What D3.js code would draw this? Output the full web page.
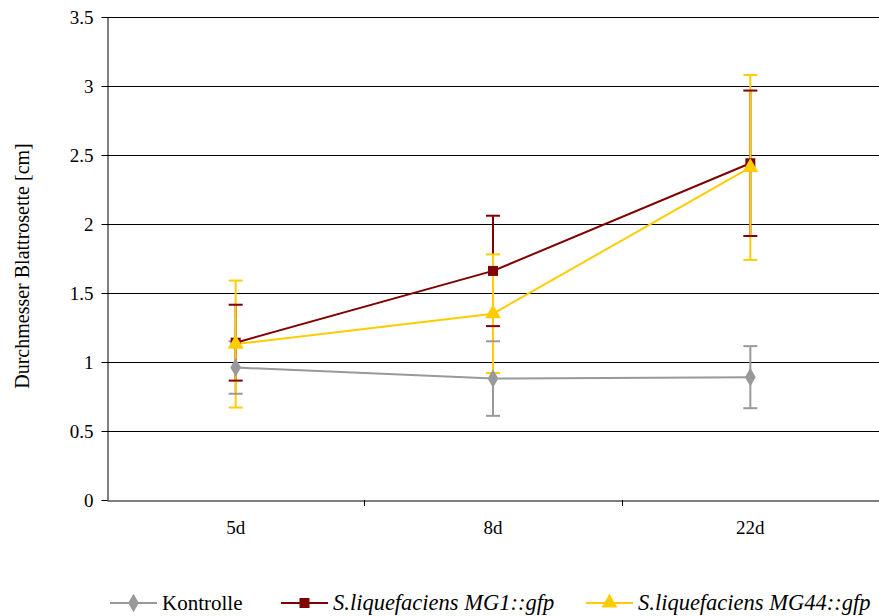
<!DOCTYPE html>
<html><head><meta charset="utf-8">
<script src="https://cdn.jsdelivr.net/npm/d3@7"></script>
<style>body{margin:0;background:#fff}svg{display:block}</style>
</head><body><svg id="c" width="879" height="616"></svg>
<script>
const categories = ["5d", "8d", "22d"];
const seriesNames = ["Kontrolle", "S.liquefaciens MG1::gfp", "S.liquefaciens MG44::gfp"];
const kontrolle = [0.96, 0.88, 0.89];
const kontrolleErr = [0.19, 0.27, 0.225];
const mg1 = [1.14, 1.66, 2.44];
const mg1Err = [0.275, 0.40, 0.527];
const mg44 = [1.13, 1.35, 2.41];
const mg44Err = [0.46, 0.43, 0.67];
const yTicks = [0, 0.5, 1, 1.5, 2, 2.5, 3, 3.5];

const series = [
  {name: seriesNames[0], values: kontrolle, err: kontrolleErr, color: "#999999", sym: d3.symbolDiamond, italic: false},
  {name: seriesNames[1], values: mg1, err: mg1Err, color: "#800000", sym: d3.symbolSquare, italic: true},
  {name: seriesNames[2], values: mg44, err: mg44Err, color: "#FFCC00", sym: d3.symbolTriangle, italic: true}
];

const FONT = '"Liberation Serif"';
const svg = d3.select("#c");
const L = 107, R = 879, T = 17, B = 500;
const x = d3.scaleBand().domain(categories).range([L, R]);
const y = d3.scaleLinear().domain([0, 3.5]).range([B, T]);

// gridlines
svg.append("g").selectAll("line").data(yTicks.filter(t => t > 0)).join("line")
  .attr("x1", L).attr("x2", R).attr("y1", d => Math.round(y(d)) + 0.5).attr("y2", d => Math.round(y(d)) + 0.5)
  .attr("stroke", "#000").attr("stroke-width", 1);

// y axis
const ya = svg.append("g").attr("transform", `translate(${L + 0.5},0)`)
  .call(d3.axisLeft(y).tickValues(yTicks).tickSize(6).tickSizeOuter(0).tickFormat(d => String(d)));
ya.attr("font-family", null).attr("font-size", null);
ya.select(".domain").attr("stroke", "#000");
ya.selectAll(".tick line").attr("stroke", "#000");
ya.selectAll(".tick text").style("font-family", FONT).style("font-size", "19px").attr("fill", "#000").attr("x", -14);

// x axis
const xa = svg.append("g").attr("transform", `translate(0,${B + 0.5})`)
  .call(d3.axisBottom(x).tickSize(0).tickSizeOuter(0));
xa.attr("font-family", null).attr("font-size", null);
xa.select(".domain").attr("stroke", "#000");
xa.selectAll(".tick text").style("font-family", FONT).style("font-size", "19px").attr("fill", "#000")
  .attr("y", 0).attr("dy", 0).attr("transform", "translate(0,33)");
// category boundary ticks
svg.append("g").selectAll("line").data(categories.slice(1)).join("line")
  .attr("x1", d => Math.round(x(d)) + 0.5).attr("x2", d => Math.round(x(d)) + 0.5)
  .attr("y1", B).attr("y2", B + 6).attr("stroke", "#000");

// y title
svg.append("text").attr("transform", `translate(29,266) rotate(-90)`)
  .attr("text-anchor", "middle").style("font-family", FONT).style("font-size", "20px").text("Durchmesser Blattrosette [cm]");

const cx = c => x(c) + x.bandwidth() / 2;
const capW = 7;

// error bars: verticals
series.forEach(s => {
  svg.append("g").selectAll("line").data(categories).join("line")
    .attr("x1", c => cx(c)).attr("x2", c => cx(c))
    .attr("y1", (c, i) => y(s.values[i] + s.err[i])).attr("y2", (c, i) => y(s.values[i] - s.err[i]))
    .attr("stroke", s.color).attr("stroke-width", 2);
});
series.forEach(s => {
  [1, -1].forEach(sgn => {
    svg.append("g").selectAll("line").data(categories).join("line")
      .attr("x1", c => cx(c) - capW).attr("x2", c => cx(c) + capW)
      .attr("y1", (c, i) => y(s.values[i] + sgn * s.err[i]))
      .attr("y2", (c, i) => y(s.values[i] + sgn * s.err[i]))
      .attr("stroke", s.color).attr("stroke-width", 2);
  });
});

// lines & markers
series.forEach(s => {
  const line = d3.line().x((d, i) => cx(categories[i])).y(d => y(d));
  svg.append("path").datum(s.values).attr("d", line).attr("fill", "none").attr("stroke", s.color).attr("stroke-width", 2);
});
series.forEach(s => {
  svg.append("g").selectAll("path").data(s.values).join("path")
    .attr("transform", (d, i) => `translate(${cx(categories[i])},${y(d)})`)
    .attr("d", d3.symbol().type(s.sym).size(s.sym === d3.symbolTriangle ? 110 : 100))
    .attr("fill", s.color);
});

// legend
const legX = [110, 281, 586];
const ly = 603;
series.forEach((s, i) => {
  const g = svg.append("g").attr("transform", `translate(${legX[i]},${ly})`);
  g.append("line").attr("x1", 0).attr("x2", 47).attr("y1", 0).attr("y2", 0).attr("stroke", s.color).attr("stroke-width", 2);
  g.append("path").attr("transform", "translate(23.5,0)")
    .attr("d", d3.symbol().type(s.sym).size(s.sym === d3.symbolTriangle ? 110 : 100)).attr("fill", s.color);
  g.append("text").attr("x", s.italic ? 52 : 52).attr("y", 7)
    .style("font-family", FONT).style("font-size", s.italic ? "22.5px" : "21px")
    .style("font-style", s.italic ? "italic" : "normal").text(s.name);
});
</script></body></html>
